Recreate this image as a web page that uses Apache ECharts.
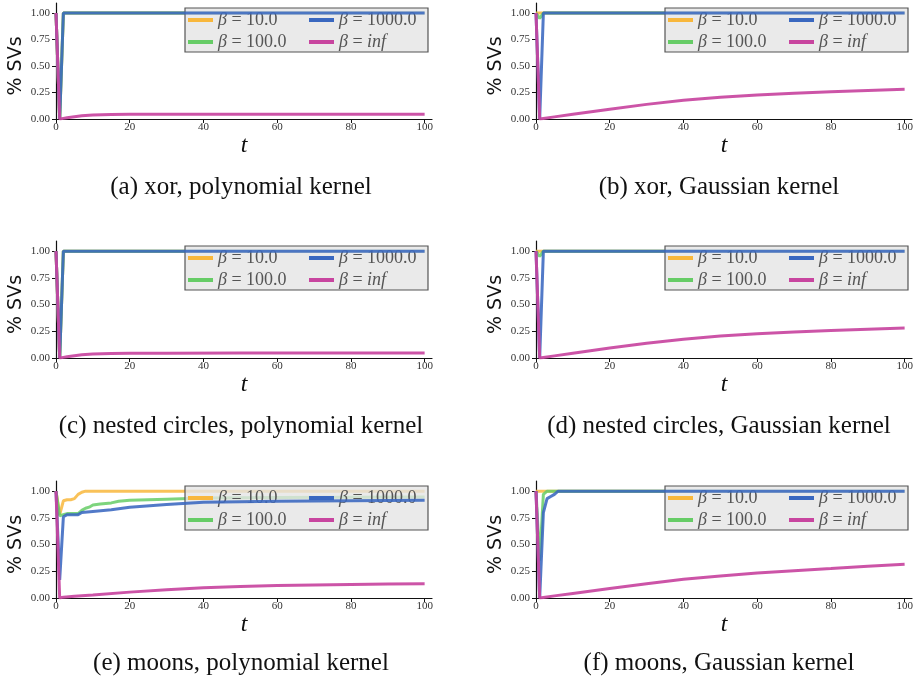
<!DOCTYPE html>
<html><head><meta charset="utf-8">
<script src="https://cdn.jsdelivr.net/npm/echarts@6/dist/echarts.min.js"></script>
<style>html,body{margin:0;padding:0;background:#fff}#c{width:919px;height:680px}</style>
</head><body><div id="c"></div>
<script>
// ---- data ----
const seriesNames = ['β=10.0', 'β=100.0', 'β=1000.0', 'β=inf'];
const legendOrder = ['β=10.0', 'β=1000.0', 'β=100.0', 'β=inf'];
const xTicks = [0, 20, 40, 60, 80, 100];
const yTicks = [0, 0.25, 0.5, 0.75, 1.0];
const captions = ['(a) xor, polynomial kernel', '(b) xor, Gaussian kernel',
  '(c) nested circles, polynomial kernel', '(d) nested circles, Gaussian kernel',
  '(e) moons, polynomial kernel', '(f) moons, Gaussian kernel'];

const xorPoly10 = [[0,1],[1,0],[2,1],[100,1]];
const xorPoly100 = [[0,1],[1,0],[2,1],[100,1]];
const xorPoly1000 = [[0,1],[1,0],[2,1],[100,1]];
const xorPolyInf = [[0,1],[1,0],[2,0.006],[3,0.012],[5,0.022],[7,0.03],[10,0.037],[15,0.042],[20,0.044],[30,0.045],[50,0.046],[100,0.046]];

const xorGauss10 = [[0,1],[1,1],[100,1]];
const xorGauss100 = [[0,1],[1,0.95],[2,1],[100,1]];
const xorGauss1000 = [[0,1],[1,0],[2,1],[100,1]];
const xorGaussInf = [[0,1],[1,0],[2,0.005],[5,0.02],[10,0.045],[20,0.093],[30,0.138],[40,0.176],[50,0.205],[60,0.226],[70,0.243],[80,0.258],[90,0.27],[100,0.28]];

const circPoly10 = [[0,1],[1,0],[2,1],[100,1]];
const circPoly100 = [[0,1],[1,0],[2,1],[100,1]];
const circPoly1000 = [[0,1],[1,0],[2,1],[100,1]];
const circPolyInf = [[0,1],[1,0],[2,0.006],[3,0.012],[5,0.022],[7,0.03],[10,0.037],[15,0.042],[20,0.044],[30,0.045],[50,0.046],[100,0.046]];

const circGauss10 = [[0,1],[1,1],[100,1]];
const circGauss100 = [[0,1],[1,0.95],[2,1],[100,1]];
const circGauss1000 = [[0,1],[1,0],[2,1],[100,1]];
const circGaussInf = [[0,1],[1,0],[2,0.005],[5,0.02],[10,0.045],[20,0.093],[30,0.138],[40,0.176],[50,0.205],[60,0.226],[70,0.243],[80,0.258],[90,0.27],[100,0.28]];

const moonPoly10 = [[0,1],[1,0.78],[2,0.91],[3,0.92],[4,0.92],[5,0.93],[6,0.97],[7,0.99],[8,1.0],[100,1.0]];
const moonPoly100 = [[0,1],[1,0.77],[2,0.78],[3,0.79],[6,0.79],[7,0.82],[8,0.84],[9,0.85],[10,0.87],[12,0.88],[15,0.89],[17,0.905],[20,0.915],[30,0.925],[40,0.935],[60,0.94],[100,0.945]];
const moonPoly1000 = [[0,1],[1,0.17],[2,0.76],[3,0.78],[6,0.78],[7,0.8],[10,0.81],[15,0.825],[20,0.85],[30,0.875],[40,0.895],[60,0.905],[100,0.915]];
const moonPolyInf = [[0,1],[1,0],[2,0.008],[5,0.016],[10,0.028],[20,0.055],[30,0.078],[40,0.096],[50,0.107],[60,0.116],[70,0.121],[80,0.126],[90,0.13],[100,0.134]];

const moonGauss10 = [[0,1],[1,1],[100,1]];
const moonGauss100 = [[0,1],[1,0.35],[2,0.97],[3,1],[100,1]];
const moonGauss1000 = [[0,1],[1,0],[2,0.8],[3,0.93],[4,0.95],[5,0.97],[6,1],[100,1]];
const moonGaussInf = [[0,1],[1,0],[2,0.005],[5,0.02],[10,0.043],[20,0.088],[30,0.133],[40,0.175],[50,0.207],[60,0.234],[70,0.256],[80,0.275],[90,0.297],[100,0.316]];

const panels = [
  [xorPoly10, xorPoly100, xorPoly1000, xorPolyInf],
  [xorGauss10, xorGauss100, xorGauss1000, xorGaussInf],
  [circPoly10, circPoly100, circPoly1000, circPolyInf],
  [circGauss10, circGauss100, circGauss1000, circGaussInf],
  [moonPoly10, moonPoly100, moonPoly1000, moonPolyInf],
  [moonGauss10, moonGauss100, moonGauss1000, moonGaussInf]
];

// ---- style / layout ----
const colors = ['#f8b73c', '#66cc66', '#3a68c0', '#c8459f'];
const opac = [0.85, 0.85, 0.88, 0.92];
const colLeft = [56, 536];
const rowTop = [3, 241, 481];
const rowH = [116, 117, 117];
const gw = 376;
const capY = [185, 424, 661];

const grids = [], xAxes = [], yAxes = [], series = [], legends = [], titles = [];
for (let p = 0; p < 6; p++) {
  const r = Math.floor(p / 2), c = p % 2;
  grids.push({left: colLeft[c], top: rowTop[r], width: gw, height: rowH[r], containLabel: false});
  xAxes.push({
    type: 'value', gridIndex: p, min: 0, max: 102,
    name: 't', nameLocation: 'middle', nameGap: 14,
    nameTextStyle: {fontFamily: 'Liberation Serif', fontStyle: 'italic', fontSize: 24, color: '#111'},
    axisLine: {lineStyle: {color: '#111', width: 1.2}},
    axisTick: {show: true, length: 4, customValues: xTicks, lineStyle: {color: '#111', width: 1}},
    axisLabel: {customValues: xTicks, fontFamily: 'Liberation Serif', fontSize: 11, color: '#333', margin: 3},
    splitLine: {show: false}
  });
  yAxes.push({
    type: 'value', gridIndex: p, min: 0, max: 1.095,
    name: '% SVs', nameLocation: 'middle', nameGap: 30, nameRotate: 90,
    nameTextStyle: {fontFamily: 'DejaVu Sans', fontSize: 19, color: '#111', padding: [0, 0, 0, -10]},
    axisLine: {show: true, lineStyle: {color: '#111', width: 1.2}},
    axisTick: {show: true, length: 4, customValues: yTicks, lineStyle: {color: '#111', width: 1}},
    axisLabel: {customValues: yTicks, formatter: v => v.toFixed(2), fontFamily: 'Liberation Serif', fontSize: 11, color: '#333', margin: 6},
    splitLine: {show: false}
  });
  for (let s = 0; s < 4; s++) {
    series.push({
      type: 'line', name: seriesNames[s], xAxisIndex: p, yAxisIndex: p,
      data: panels[p][s], showSymbol: false, symbol: 'none', animation: false,
      z: 2 + s,
      itemStyle: {color: colors[s]},
      lineStyle: {color: colors[s], width: 3, opacity: opac[s]}
    });
  }
  legends.push({
    data: legendOrder, left: colLeft[c] + 129, top: rowTop[r] + 5,
    orient: 'horizontal', width: 245, icon: 'rect',
    itemWidth: 25, itemHeight: 4, itemGap: 4,
    padding: [3, 2, 1, 3],
    backgroundColor: 'rgba(229,229,229,0.8)', borderColor: '#555', borderWidth: 1.2, borderRadius: 0,
    selectedMode: false,
    formatter: n => n === 'β=inf' ? '{i|β} = {i|inf}' : '{i|β} = ' + n.slice(2),
    textStyle: {fontFamily: 'Liberation Serif', fontSize: 18, color: '#555', width: 87, lineHeight: 15,
      rich: {i: {fontFamily: 'Liberation Serif', fontStyle: 'italic', fontSize: 18, color: '#555', lineHeight: 15}}}
  });
  titles.push({
    text: captions[p],
    left: c === 0 ? 236 : 714, top: capY[r] - 15, textAlign: 'center',
    textStyle: {fontFamily: 'Liberation Serif', fontWeight: 'normal', fontSize: 25, color: '#111'}
  });
}

const chart = echarts.init(document.getElementById('c'), null, {renderer: 'canvas'});
chart.setOption({
  animation: false,
  title: titles, grid: grids, xAxis: xAxes, yAxis: yAxes, legend: legends, series: series
});
</script></body></html>
